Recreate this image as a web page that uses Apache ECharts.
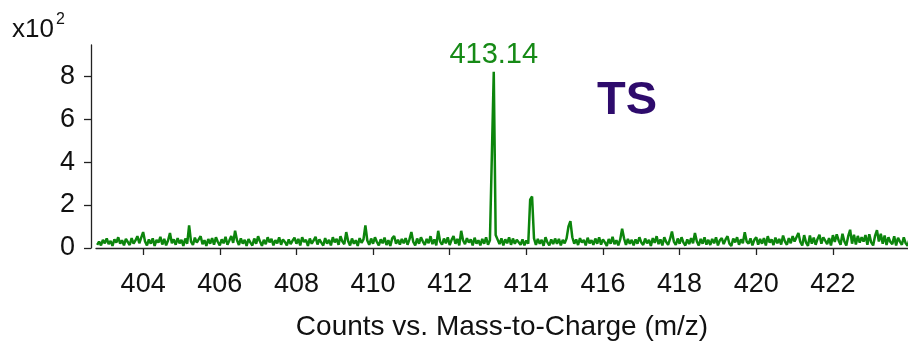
<!DOCTYPE html>
<html>
<head>
<meta charset="utf-8">
<script src="https://cdn.jsdelivr.net/npm/echarts@6/dist/echarts.min.js"></script>
<style>
  html, body { margin: 0; padding: 0; background: #fff; }
  #chart { width: 908px; height: 343px; }
</style>
</head>
<body>
<div id="chart"></div>
<script>
// m/z sampling grid of the trace (start + step), intensities (x10^2 counts)
var mzStart = 402.8;
var mzStep = 0.05;
var intensity = [
  0.15,0.3,0.12,0.38,0.22,0.45,0.18,0.33,0.1,0.4,0.25,0.5,0.2,0.36,0.12,0.42,0.28,0.14,0.46,0.2,
  0.35,0.55,0.22,0.48,0.74,0.3,0.12,0.4,0.2,0.45,0.1,0.38,0.25,0.52,0.16,0.42,0.12,0.35,0.7,0.22,
  0.4,0.15,0.46,0.22,0.38,0.1,0.44,0.2,1.05,0.3,0.14,0.48,0.25,0.4,0.55,0.18,0.36,0.1,0.42,0.2,
  0.46,0.16,0.5,0.28,0.12,0.4,0.22,0.52,0.15,0.35,0.56,0.24,0.8,0.36,0.14,0.45,0.2,0.38,0.1,0.42,
  0.25,0.12,0.44,0.2,0.55,0.3,0.1,0.38,0.18,0.5,0.26,0.42,0.12,0.36,0.22,0.5,0.15,0.4,0.28,0.12,
  0.4,0.18,0.34,0.48,0.2,0.42,0.12,0.5,0.28,0.38,0.1,0.44,0.2,0.36,0.52,0.16,0.4,0.25,0.12,0.46,
  0.2,0.38,0.12,0.5,0.26,0.42,0.15,0.55,0.3,0.18,0.74,0.32,0.12,0.44,0.2,0.36,0.1,0.46,0.24,0.4,
  1.05,0.35,0.15,0.44,0.2,0.5,0.28,0.12,0.4,0.22,0.48,0.14,0.36,0.1,0.45,0.56,0.2,0.38,0.16,0.42,
  0.22,0.46,0.15,0.4,0.74,0.28,0.12,0.44,0.2,0.5,0.3,0.14,0.42,0.22,0.55,0.18,0.4,0.12,0.8,0.3,
  0.16,0.44,0.22,0.5,0.14,0.38,0.56,0.2,0.42,0.12,0.8,0.35,0.18,0.46,0.25,0.4,0.12,0.48,0.2,0.36,
  0.12,0.42,0.2,0.5,0.15,0.36,0.3,8.2,0.6,0.55,0.18,0.45,0.12,0.4,0.22,0.5,0.15,0.44,0.2,0.38,
  0.46,0.15,0.4,0.12,0.35,0.2,2.25,2.4,0.45,0.15,0.42,0.2,0.38,0.1,0.5,0.26,0.12,0.4,0.18,0.44,
  0.2,0.42,0.12,0.38,0.22,0.45,1.0,1.25,0.5,0.2,0.4,0.14,0.46,0.25,0.38,0.12,0.48,0.22,0.36,0.15,
  0.44,0.2,0.5,0.16,0.4,0.26,0.1,0.42,0.2,0.52,0.18,0.36,0.12,0.4,0.9,0.45,0.14,0.42,0.2,0.38,
  0.12,0.4,0.2,0.5,0.26,0.14,0.44,0.22,0.38,0.1,0.46,0.24,0.55,0.18,0.4,0.12,0.5,0.28,0.15,0.42,
  0.77,0.3,0.14,0.44,0.2,0.5,0.25,0.12,0.4,0.18,0.46,0.22,0.7,0.3,0.12,0.42,0.2,0.5,0.16,0.38,
  0.14,0.42,0.22,0.5,0.12,0.36,0.46,0.18,0.4,0.55,0.2,0.1,0.44,0.26,0.5,0.15,0.4,0.22,0.73,0.3,
  0.2,0.45,0.12,0.38,0.5,0.16,0.42,0.2,0.46,0.12,0.55,0.25,0.4,0.14,0.48,0.22,0.42,0.16,0.58,0.3,
  0.15,0.46,0.22,0.55,0.3,0.5,0.7,0.28,0.12,0.6,0.25,0.1,0.58,0.2,0.48,0.15,0.42,0.62,0.2,0.5,
  0.58,0.18,0.46,0.12,0.6,0.28,0.64,0.35,0.15,0.66,0.3,0.12,0.55,0.85,0.2,0.62,0.16,0.56,0.25,0.5,
  0.3,0.6,0.15,0.64,0.26,0.12,0.56,0.83,0.3,0.66,0.2,0.58,0.14,0.5,0.28,0.18,0.55,0.12,0.48,0.3,
  0.15,0.5,0.22,0.1,0.42
];
var xTicks = [404, 406, 408, 410, 412, 414, 416, 418, 420, 422];
var yTicks = [0, 2, 4, 6, 8];
var peakMz = 413.15;
var peakValue = 8.2;
var peakLabel = "413.14";

var chartDom = document.getElementById("chart");
var myChart = echarts.init(chartDom);

var seriesData = intensity.map(function (v, i) {
  return [Math.round((mzStart + i * mzStep) * 100) / 100, v];
});

var FONT = "Liberation Sans, Arial, sans-serif";
var option = {
  animation: false,
  backgroundColor: "#fff",
  grid: { left: 96, right: 0, top: 45, bottom: 95, outerBoundsMode: "none" },
  xAxis: {
    type: "value",
    min: 402.77,
    max: 423.96,
    offset: 7,
    name: "Counts vs. Mass-to-Charge (m/z)",
    nameLocation: "middle",
    nameGap: 58,
    nameTextStyle: { fontFamily: FONT, fontSize: 28, color: "#111" },
    axisLine: { show: true, lineStyle: { color: "#222", width: 1.3 } },
    axisTick: { show: true, length: 7, customValues: xTicks, lineStyle: { color: "#222", width: 1.3 } },
    axisLabel: { customValues: xTicks, fontFamily: FONT, fontSize: 27, color: "#111", margin: 16 },
    splitLine: { show: false }
  },
  yAxis: {
    type: "value",
    min: 0,
    max: 9.45,
    offset: 5,
    axisLine: { show: true, lineStyle: { color: "#222", width: 1.3 } },
    axisTick: { show: true, length: 7, customValues: yTicks, lineStyle: { color: "#222", width: 1.3 } },
    axisLabel: {
      customValues: yTicks, fontFamily: FONT, fontSize: 27, color: "#111", margin: 16,
      padding: [4, 0, 0, 0]
    },
    splitLine: { show: false }
  },
  graphic: [
    { type: "text", left: 12, top: 17, style: { text: "x10", font: "26px " + FONT, fill: "#111" } },
    { type: "text", left: 56, top: 12, style: { text: "2", font: "16px " + FONT, fill: "#111" } },
    { type: "text", left: 597, top: 78, style: { text: "TS", font: "bold 47px " + FONT, fill: "#2e0b6c" } }
  ],
  series: [
    {
      type: "line",
      data: seriesData,
      showSymbol: false,
      lineStyle: { color: "#0c850c", width: 2.5 },
      itemStyle: { color: "#0c850c" },
      markPoint: {
        symbol: "circle",
        symbolSize: 0,
        data: [{ coord: [peakMz, peakValue] }],
        label: {
          show: true,
          position: "top",
          distance: 2,
          formatter: peakLabel,
          fontFamily: FONT,
          fontSize: 29,
          color: "#168a16"
        }
      }
    }
  ]
};
option && myChart.setOption(option, true);
</script>
</body>
</html>
